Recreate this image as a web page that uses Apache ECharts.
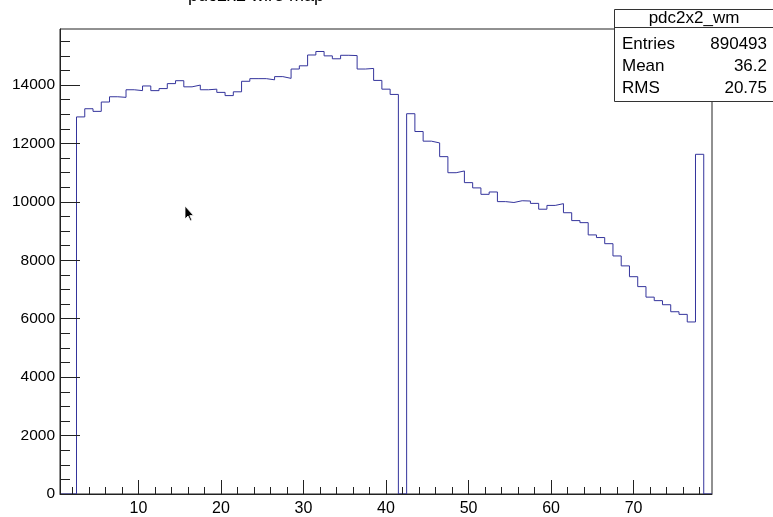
<!DOCTYPE html>
<html><head><meta charset="utf-8">
<script src="https://cdn.jsdelivr.net/npm/echarts@6/dist/echarts.min.js"></script>
<style>html,body{margin:0;padding:0;background:#fff}#c{width:773px;height:517px}</style>
</head><body><div id="c"></div>
<script>
// ---- data ----
const binLow = 0.5;
const binWidth = 1;
const counts = [
  0, 0, 12910, 13190, 13100, 13420, 13600, 13580, 13840, 13810,
  13970, 13810, 13880, 14050, 14150, 13940, 14000, 13840, 13860, 13750,
  13640, 13770, 14130, 14220, 14220, 14180, 14290, 14230, 14550, 14660,
  15030, 15150, 15000, 14900, 15020, 15010, 14550, 14570, 14160, 13860,
  13680, 0, 13020, 12410, 12080, 12020, 11550, 11000, 11060, 10660,
  10480, 10260, 10340, 10010, 9980, 10040, 10030, 9950, 9750, 9880,
  9940, 9630, 9360, 9290, 8870, 8780, 8570, 8150, 7810, 7440,
  7100, 6740, 6620, 6480, 6240, 6150, 5890, 11630, 0
];
const xMin = 0.5, xMax = 79.5;
const yMin = 0, yMax = 15920;
const xMajorTicks = [10, 20, 30, 40, 50, 60, 70];
const xMinorTicks = [2,4,6,8,12,14,16,18,22,24,26,28,32,34,36,38,42,44,46,48,52,54,56,58,62,64,66,68,72,74,76,78];
const yMajorTicks = [0, 2000, 4000, 6000, 8000, 10000, 12000, 14000];
const yMinorTicks = [500,1000,1500,2500,3000,3500,4500,5000,5500,6500,7000,7500,8500,9000,9500,10500,11000,11500,12500,13000,13500,14500,15000,15500];
const titleText = 'pdc2x2 wire map';
const statsName = 'pdc2x2_wm';
const statsLabels = ['Entries', 'Mean', 'RMS'];
const statsValues = ['890493', '36.2', '20.75'];

// ---- build step outline from bin edges ----
const points = [];
for (let i = 0; i < counts.length; i++) {
  points.push([binLow + i * binWidth, counts[i]]);
}
points.push([binLow + counts.length * binWidth, 0]);

const FONT = '"Liberation Sans", Arial, Helvetica, sans-serif';
const chart = echarts.init(document.getElementById('c'), null, {renderer: 'canvas'});

const statsGraphics = [];
const bx = 614, by = 9, bw = 170, bh = 92, headerY = 27.5;
statsGraphics.push({type: 'rect', shape: {x: bx + 0.5, y: by + 0.5, width: bw, height: bh}, style: {fill: '#fff', stroke: '#333', lineWidth: 1}, z: 100});
statsGraphics.push({type: 'line', shape: {x1: bx, y1: headerY, x2: bx + bw, y2: headerY}, style: {stroke: '#333', lineWidth: 1}, z: 101});
statsGraphics.push({type: 'text', x: 694, y: 18.5, style: {text: statsName, font: '17px ' + FONT, fill: '#000', align: 'center', verticalAlign: 'middle'}, z: 102});
for (let i = 0; i < statsLabels.length; i++) {
  const cy = 44 + i * 22;
  statsGraphics.push({type: 'text', x: 622, y: cy, style: {text: statsLabels[i], font: '17px ' + FONT, fill: '#000', align: 'left', verticalAlign: 'middle'}, z: 102});
  statsGraphics.push({type: 'text', x: 767, y: cy, style: {text: statsValues[i], font: '17px ' + FONT, fill: '#000', align: 'right', verticalAlign: 'middle'}, z: 102});
}

const cursorPts = [[0,0],[0,13],[3,10],[5.5,15],[7,14.3],[4.8,9.6],[8.6,9.6]].map(p => [185 + p[0], 206 + p[1]]);
const plain = v => String(v);

chart.setOption({
  animation: false,
  backgroundColor: '#fff',
  grid: {left: 60, right: 61, top: 29, bottom: 21, show: true, borderColor: '#222', borderWidth: 1, backgroundColor: '#fff'},
  xAxis: [
    {type: 'value', min: xMin, max: xMax, position: 'bottom', z: 10,
     axisLine: {show: true, onZero: false, lineStyle: {color: '#222', width: 1}},
     axisTick: {show: true, inside: true, length: 14, customValues: xMajorTicks, lineStyle: {color: '#222', width: 1}},
     axisLabel: {show: true, customValues: xMajorTicks, formatter: plain, color: '#000', fontSize: 16, fontFamily: FONT, margin: 7},
     splitLine: {show: false}},
    {type: 'value', min: xMin, max: xMax, position: 'bottom', z: 10,
     axisLine: {show: false, onZero: false},
     axisTick: {show: true, inside: true, length: 7, customValues: xMinorTicks, lineStyle: {color: '#222', width: 1}},
     axisLabel: {show: false},
     splitLine: {show: false}}
  ],
  yAxis: [
    {type: 'value', min: yMin, max: yMax, position: 'left', z: 10,
     axisLine: {show: true, onZero: false, lineStyle: {color: '#222', width: 1}},
     axisTick: {show: true, inside: true, length: 20, customValues: yMajorTicks, lineStyle: {color: '#222', width: 1}},
     axisLabel: {show: true, customValues: yMajorTicks, formatter: plain, color: '#000', fontSize: 15.5, fontFamily: FONT, margin: 5},
     splitLine: {show: false}},
    {type: 'value', min: yMin, max: yMax, position: 'left', z: 10,
     axisLine: {show: false, onZero: false},
     axisTick: {show: true, inside: true, length: 10, customValues: yMinorTicks, lineStyle: {color: '#222', width: 1}},
     axisLabel: {show: false},
     splitLine: {show: false}}
  ],
  series: [{
    type: 'line', xAxisIndex: 0, yAxisIndex: 0, data: points, step: 'end',
    symbol: 'none', showSymbol: false, clip: true, z: 2,
    lineStyle: {color: '#34349c', width: 1}
  }],
  graphic: [
    {type: 'text', x: 256, y: -3.5, style: {text: titleText, font: '18px ' + FONT, fill: '#000', align: 'center', verticalAlign: 'middle'}, z: 50},
    ...statsGraphics,
    {type: 'polygon', shape: {points: cursorPts}, style: {fill: '#000', stroke: '#fff', lineWidth: 0.8}, z: 120}
  ]
});
</script>
</body></html>
